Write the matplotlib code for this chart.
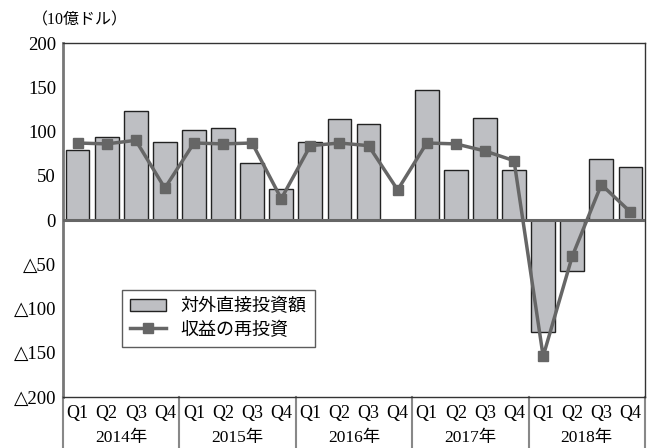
import matplotlib.pyplot as plt
import numpy as np

plt.rcParams['font.family'] = ['Liberation Serif', 'DejaVu Serif', 'Noto Sans CJK JP']

years = ['2014年', '2015年', '2016年', '2017年', '2018年']
quarters = ['Q1', 'Q2', 'Q3', 'Q4']
fdi = [79, 94, 123, 88, 102, 104, 64, 35, 88, 114, 108, 0,
       147, 57, 115, 57, -126, -58, 69, 60]
reinvest = [87, 86, 90, 36, 87, 86, 87, 24, 84, 87, 84, 34,
            87, 86, 78, 67, -154, -41, 40, 9]
yticks = [200, 150, 100, 50, 0, -50, -100, -150, -200]
ytick_labels = ['200', '150', '100', '50', '0', '△50', '△100', '△150', '△200']

x = np.arange(len(fdi))

fig = plt.figure(figsize=(6.51, 4.48), dpi=100)
ax = fig.add_axes([63/651, 1-397/448, 582/651, 354/448])

bars = ax.bar(x, fdi, width=0.82, color='#bebfc3', edgecolor='#222222', linewidth=1.0,
              label='対外直接投資額', zorder=2)
line, = ax.plot(x, reinvest, color='#666666', linewidth=2.5, marker='s', markersize=7,
                label='収益の再投資', zorder=3)
ax.axhline(0, color='#666666', linewidth=2.2, zorder=4)

ax.set_xlim(-0.5, len(fdi) - 0.5)
ax.set_ylim(-200, 200)
ax.set_yticks(yticks)
ax.set_yticklabels(ytick_labels, fontsize=13.5)
ax.tick_params(axis='y', length=0, pad=5)
ax.set_xticks(x)
ax.set_xticklabels(quarters * len(years), fontsize=13)
ax.tick_params(axis='x', length=0, pad=6)

for side in ['top', 'right', 'bottom']:
    ax.spines[side].set_color('#333333')
    ax.spines[side].set_linewidth(1.0)
ax.spines['left'].set_color('#777777')
ax.spines['left'].set_linewidth(2.0)

# year separators and labels under the quarter ticks
for i in range(len(years) + 1):
    ax.plot([i * 4 - 0.5] * 2, [0, -0.145], transform=ax.get_xaxis_transform(),
            color='#888888', linewidth=1.5, clip_on=False)
for i, yr in enumerate(years):
    ax.text(i * 4 + 1.5, -0.116, yr, transform=ax.get_xaxis_transform(),
            ha='center', va='center', fontsize=12.5)

fig.text(80/651, 1-20/448, '（10億ドル）', fontsize=11.5, ha='center', va='center')

leg = ax.legend([bars, line], ['対外直接投資額', '収益の再投資'],
                loc='upper left', bbox_to_anchor=(50/582, (397-281)/354),
                fontsize=13, frameon=True, fancybox=False, edgecolor='#333333',
                handlelength=2.0, borderpad=0.45, labelspacing=0.35)
leg.get_frame().set_linewidth(1.0)

fig.savefig('out.png', dpi=100)
